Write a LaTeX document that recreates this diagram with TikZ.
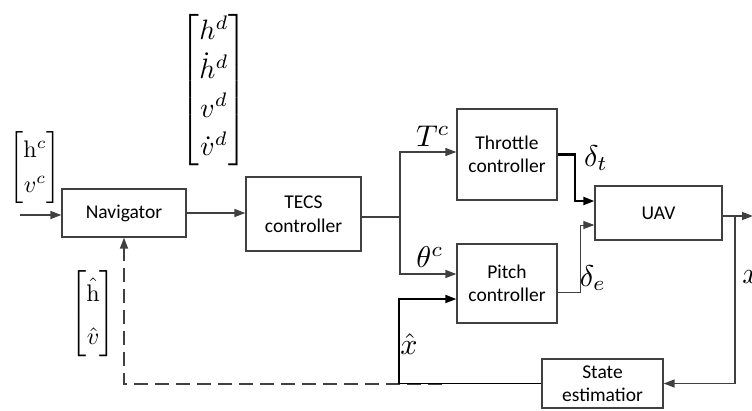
\documentclass[tikz,border=0pt]{standalone}
\usepackage{amsmath}
\usepackage{fontspec}
\newfontfamily\boxfont{Carlito}
\usetikzlibrary{arrows.meta}
\definecolor{linegray}{HTML}{404040}
\begin{document}
\begin{tikzpicture}[x=1pt,y=-1pt,
  blk/.style={draw=linegray, line width=1.3pt, fill=white, align=center,
    font=\boxfont\fontsize{19.5}{23.5}\selectfont, inner sep=0pt},
  wire/.style={draw=linegray, line width=1.4pt},
  thickwire/.style={draw=black, line width=2.2pt},
  thinwire/.style={draw=linegray, line width=0.9pt},
  fbwire/.style={draw=black, line width=1.9pt},
  fbdash/.style={draw=linegray, line width=1.6pt, dash pattern=on 14pt off 7pt},
  arr/.style={-{Triangle[length=11pt,width=8pt]}},
  lbl/.style={inner sep=0pt},
]
\useasboundingbox (0,0) rectangle (752,410);

% blocks
\node[blk, minimum width=124pt, minimum height=48pt] (nav) at (124,213) {Navigator};
\node[blk, minimum width=115pt, minimum height=74pt] (tecs) at (303.5,214) {TECS\\controller};
\node[blk, minimum width=100pt, minimum height=91pt] (thr) at (507,154.5) {Throttle\\controller};
\node[blk, minimum width=100pt, minimum height=79pt] (pitch) at (507,283.5) {Pitch\\controller};
\node[blk, minimum width=127pt, minimum height=54pt] (uav) at (658.5,213) {UAV};
\node[blk, minimum width=121pt, minimum height=49pt] (est) at (602.5,383.5) {State\\estimatior};

% coordinates
\coordinate (in) at (20,215);
\coordinate (j1) at (400,217);
\coordinate (j2) at (735,216);
\coordinate (out) at (753,216);
\coordinate (j3) at (399,384);
\coordinate (d0) at (442,384);

% connectors
\draw[wire,arr] (in) -- (in -| nav.west);
\draw[wire,arr] (nav.east) -- (nav.east -| tecs.west);
\draw[wire] (tecs.east |- j1) -- (j1);
\draw[wire,arr] (j1) |- ([yshift=2.5pt]thr.west);
\draw[wire,arr] (j1) |- ([yshift=9.5pt]pitch.west);
\draw[thickwire,arr] (thr.east) -- ++(17,0) |- ([yshift=12pt]uav.west);
\draw[thinwire,arr] ([yshift=-8.5pt]pitch.east) -- ++(23,0) |- ([yshift=-12pt]uav.west);
\draw[wire,arr] ([yshift=-3pt]uav.east) -- (out);
\draw[wire,arr] (j2) |- (est.east);
\draw[fbdash,arr] (d0) -| (nav.south);
\draw[fbwire,arr] (est.west) -- (est.west -| j3) |- ([yshift=-15.5pt]pitch.west);

% labels
\node[lbl, scale=2.4] (mc) at (35,168)
  {$\def\arraystretch{1.2}\begin{bmatrix}\mathrm{h}^c\\ v^c\end{bmatrix}$};
\node[lbl, scale=2.8] (md) at (214,90)
  {$\def\arraystretch{1.15}\begin{bmatrix}h^d\\ \dot{h}^d\\ v^d\\ \dot{v}^d\end{bmatrix}$};
\node[lbl, scale=2.4] (mh) at (93,314)
  {$\def\arraystretch{1.5}\begin{bmatrix}\hat{\mathrm{h}}\\ \hat{v}\end{bmatrix}$};
\node[lbl, scale=3] (lT) at (433,136) {$T^c$};
\node[lbl, scale=3] (lth) at (430,257) {$\theta^c$};
\node[lbl, scale=3] (ldt) at (596,158) {$\delta_t$};
\node[lbl, scale=3] (lde) at (593,278) {$\delta_e$};
\node[lbl, scale=3] (lxh) at (409,344) {$\hat{x}$};
\node[lbl, scale=3] (lx) at (751,277) {$x$};
\end{tikzpicture}
\end{document}
